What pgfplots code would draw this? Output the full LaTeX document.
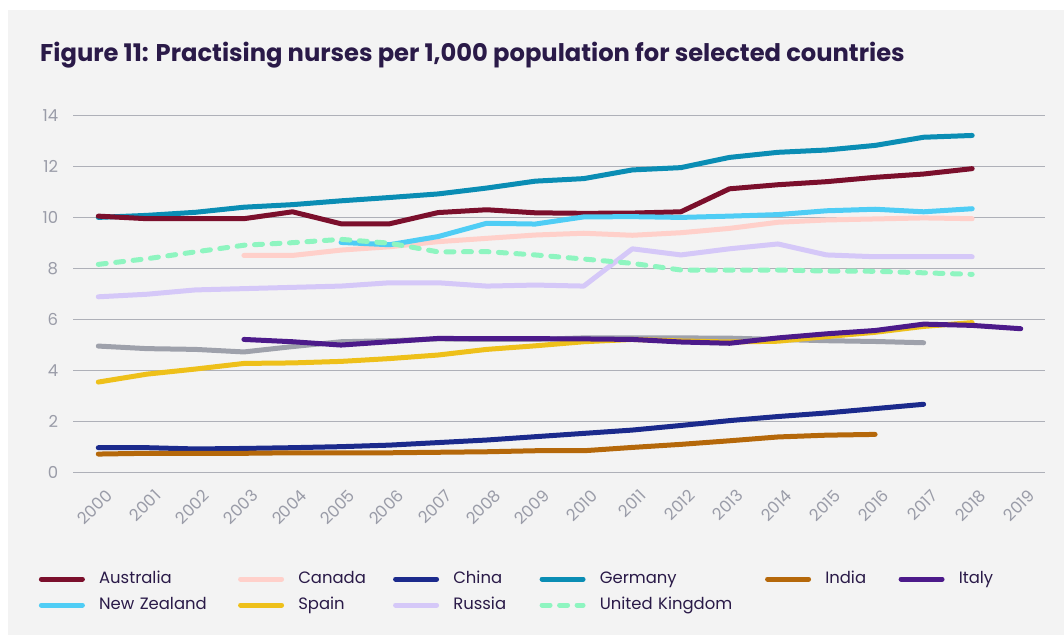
\documentclass[border=0pt]{standalone}
\usepackage{fontspec}
\setmainfont{Poppins}
\usepackage{pgfplots}
\pgfplotsset{compat=1.18}

\definecolor{bgc}{HTML}{F3F3F3}
\definecolor{gridc}{HTML}{AEB0B8}
\definecolor{tickc}{HTML}{9A9CA8}
\definecolor{titlec}{HTML}{2A1A48}
\definecolor{australia}{HTML}{7B0F2C}
\definecolor{canada}{HTML}{FFD0CA}
\definecolor{china}{HTML}{1B2A8C}
\definecolor{germany}{HTML}{0A8DB4}
\definecolor{india}{HTML}{B5680A}
\definecolor{italy}{HTML}{4C1A8A}
\definecolor{nz}{HTML}{4FCDF5}
\definecolor{spain}{HTML}{EEC01A}
\definecolor{russia}{HTML}{D5C8F8}
\definecolor{uk}{HTML}{8EF5C0}
\definecolor{other}{HTML}{9EA1AB}

\begin{document}
\begin{tikzpicture}
\useasboundingbox (0,0) rectangle (1064bp,635bp);
\fill[white] (0,0) rectangle (1064bp,635bp);
\fill[bgc] (8bp,0) rectangle (1064bp,625bp);
\node[anchor=base west, inner sep=0pt, text=titlec,
      font=\bfseries\fontsize{24.3}{28}\selectfont] at (40bp,573.3bp)
  {Figure 11: Practising nurses per 1,000 population for selected countries};

\begin{axis}[
  at={(73.3bp,162.3bp)}, anchor=south west,
  scale only axis, width=971.7bp, height=357.4bp,
  xmin=1999.485, xmax=2019.5, ymin=0, ymax=14,
  xtick={2000,...,2019}, ytick={0,2,...,14},
  axis line style={draw=none},
  major tick length=0pt,
  ymajorgrids, grid style={gridc, line width=1.3bp},
  tick label style={font=\fontsize{16.5}{19}\selectfont, text=tickc},
  /pgf/number format/assume math mode=true,
  /pgf/number format/1000 sep={},
  yticklabel style={anchor=east, inner sep=0pt, xshift=-15bp},
  xticklabel style={anchor=east, inner sep=0pt, xshift=11bp, yshift=-20bp, rotate=45},
  every axis plot/.append style={line width=5bp, line cap=round, line join=round},
  legend columns=6,
  legend cell align=left,
  legend style={draw=none, fill=none, inner sep=0pt, outer sep=0pt,
    at={(axis description cs:-0.03541,-0.3338)}, anchor=west,
    font=\fontsize{16.5}{19}\selectfont, text=titlec,
    row sep=14bp, column sep=0pt,
    nodes={inner sep=0pt, text height=10bp, text depth=2bp},
    /tikz/column 1/.style={column sep=14.2bp},
    /tikz/column 3/.style={column sep=14.2bp},
    /tikz/column 5/.style={column sep=14.2bp},
    /tikz/column 7/.style={column sep=14.2bp},
    /tikz/column 9/.style={column sep=14.2bp},
    /tikz/column 11/.style={column sep=14.2bp},
    /tikz/column 2/.style={nodes={text width=139bp}},
    /tikz/column 4/.style={nodes={text width=94.8bp}},
    /tikz/column 6/.style={nodes={text width=86.3bp}},
    /tikz/column 8/.style={nodes={text width=165.3bp}},
    /tikz/column 10/.style={nodes={text width=73.3bp}},
    /tikz/column 12/.style={nodes={text width=60bp}},
  },
  legend image code/.code={\draw[#1] (0bp,0bp) -- (41bp,0bp);},
]
% legend, in the order of the reference
\addlegendimage{australia, line width=5bp, line cap=round}
\addlegendentry{Australia}
\addlegendimage{canada, line width=5bp, line cap=round}
\addlegendentry{Canada}
\addlegendimage{china, line width=5bp, line cap=round}
\addlegendentry{China}
\addlegendimage{germany, line width=5bp, line cap=round}
\addlegendentry{Germany}
\addlegendimage{india, line width=5bp, line cap=round}
\addlegendentry{India}
\addlegendimage{italy, line width=5bp, line cap=round}
\addlegendentry{Italy}
\addlegendimage{nz, line width=5bp, line cap=round}
\addlegendentry{New Zealand}
\addlegendimage{spain, line width=5bp, line cap=round}
\addlegendentry{Spain}
\addlegendimage{russia, line width=5bp, line cap=round}
\addlegendentry{Russia}
\addlegendimage{uk, line width=5bp, line cap=round, dash pattern=on 8bp off 9.5bp}
\addlegendentry{United Kingdom}

% unlabelled grey series
\addplot[other, forget plot] table {
2000 4.96
2001 4.86
2002 4.83
2003 4.73
2004 4.94
2005 5.13
2006 5.17
2007 5.24
2008 5.22
2009 5.22
2010 5.28
2011 5.28
2012 5.28
2013 5.27
2014 5.22
2015 5.17
2016 5.14
2017 5.09
};
% Germany
\addplot[germany, forget plot] table {
2000 10.00
2001 10.08
2002 10.20
2003 10.40
2004 10.50
2005 10.65
2006 10.78
2007 10.92
2008 11.15
2009 11.42
2010 11.52
2011 11.86
2012 11.95
2013 12.35
2014 12.55
2015 12.64
2016 12.82
2017 13.14
2018 13.21
};
% Australia
\addplot[australia, forget plot] table {
2000 10.05
2001 9.95
2002 9.95
2003 9.95
2004 10.22
2005 9.75
2006 9.75
2007 10.19
2008 10.30
2009 10.18
2010 10.16
2011 10.17
2012 10.22
2013 11.12
2014 11.28
2015 11.40
2016 11.57
2017 11.70
2018 11.91
};
% Canada
\addplot[canada, forget plot] table {
2003 8.51
2004 8.51
2005 8.72
2006 8.85
2007 9.05
2008 9.18
2009 9.31
2010 9.38
2011 9.30
2012 9.40
2013 9.57
2014 9.81
2015 9.90
2016 9.94
2017 9.98
2018 9.95
};
% New Zealand
\addplot[nz, forget plot] table {
2005 9.02
2006 8.93
2007 9.25
2008 9.77
2009 9.74
2010 10.02
2011 10.03
2012 10.00
2013 10.05
2014 10.11
2015 10.26
2016 10.32
2017 10.22
2018 10.34
};
% Russia
\addplot[russia, forget plot] table {
2000 6.89
2001 6.99
2002 7.16
2003 7.21
2004 7.26
2005 7.31
2006 7.44
2007 7.44
2008 7.31
2009 7.35
2010 7.31
2011 8.77
2012 8.53
2013 8.77
2014 8.96
2015 8.53
2016 8.46
2017 8.46
2018 8.46
};
% United Kingdom
\addplot[uk, forget plot, dash pattern=on 8bp off 9.5bp] table {
2000 8.16
2001 8.38
2002 8.65
2003 8.91
2004 9.01
2005 9.14
2006 8.99
2007 8.65
2008 8.66
2009 8.53
2010 8.37
2011 8.20
2012 7.94
2013 7.94
2014 7.94
2015 7.90
2016 7.89
2017 7.83
2018 7.77
};
% Spain
\addplot[spain, forget plot] table {
2000 3.55
2001 3.86
2002 4.06
2003 4.28
2004 4.30
2005 4.36
2006 4.47
2007 4.61
2008 4.83
2009 4.97
2010 5.13
2011 5.22
2012 5.16
2013 5.12
2014 5.15
2015 5.33
2016 5.50
2017 5.73
2018 5.88
};
% China
\addplot[china, forget plot] table {
2000 0.98
2001 0.98
2002 0.93
2003 0.95
2004 0.98
2005 1.02
2006 1.08
2007 1.18
2008 1.28
2009 1.41
2010 1.54
2011 1.67
2012 1.85
2013 2.04
2014 2.20
2015 2.34
2016 2.51
2017 2.68
};
% India
\addplot[india, forget plot] table {
2000 0.73
2001 0.76
2002 0.76
2003 0.76
2004 0.78
2005 0.78
2006 0.78
2007 0.80
2008 0.82
2009 0.86
2010 0.86
2011 0.99
2012 1.11
2013 1.25
2014 1.40
2015 1.47
2016 1.50
};
% Italy
\addplot[italy, forget plot] table {
2003 5.22
2004 5.13
2005 5.00
2006 5.13
2007 5.26
2008 5.25
2009 5.25
2010 5.24
2011 5.22
2012 5.12
2013 5.07
2014 5.28
2015 5.44
2016 5.57
2017 5.82
2018 5.77
2019 5.64
};
\end{axis}
\end{tikzpicture}
\end{document}
